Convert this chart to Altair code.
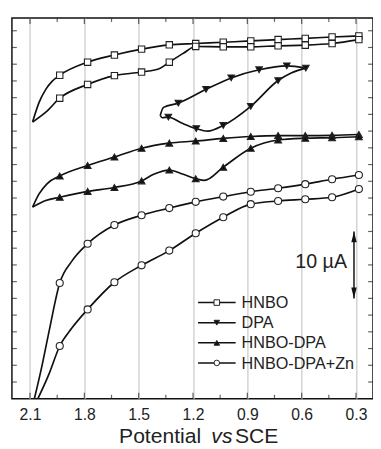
import altair as alt
import pandas as pd

FONT = "Liberation Sans"
SERIES = ["HNBO", "DPA", "HNBO-DPA", "HNBO-DPA+Zn"]

# ---- HNBO (open squares) ----
hnbo_a_v = [2.086, 2.050, 2.013, 1.977, 1.936, 1.782, 1.634, 1.484, 1.331, 1.185, 1.033, 0.881, 0.730, 0.580, 0.432, 0.284]
hnbo_a_i = [41.35, 44.29, 46.24, 47.47, 48.35, 50.30, 51.37, 52.25, 52.90, 53.09, 53.28, 53.48, 53.68, 53.86, 54.07, 54.22]
hnbo_a_m = [0, 0, 0, 0, 1, 1, 1, 1, 1, 1, 1, 1, 1, 1, 1, 1]
hnbo_b_v = [2.086, 2.013, 1.936, 1.782, 1.634, 1.484, 1.381, 1.331, 1.254, 1.185, 1.033, 0.881, 0.730, 0.580, 0.432, 0.284]
hnbo_b_i = [41.35, 42.82, 44.92, 46.97, 48.29, 48.83, 49.41, 50.30, 51.62, 52.65, 52.60, 52.60, 52.75, 52.84, 53.09, 53.67]
hnbo_b_m = [0, 0, 1, 1, 1, 1, 0, 1, 0, 1, 1, 1, 1, 1, 1, 1]

# ---- DPA (filled down triangles) ----
dpa_a_v = [1.381, 1.363, 1.281, 1.128, 0.989, 0.835, 0.682, 0.577]
dpa_a_i = [42.34, 43.55, 44.18, 46.24, 47.95, 49.17, 49.76, 49.42]
dpa_a_m = [0, 0, 1, 1, 1, 1, 1, 1]
dpa_b_v = [1.381, 1.370, 1.336, 1.263, 1.182, 1.119, 1.033, 0.881, 0.730, 0.658, 0.577]
dpa_b_i = [42.34, 42.00, 42.09, 41.21, 40.37, 39.99, 40.84, 43.70, 47.56, 48.69, 49.42]
dpa_b_m = [0, 0, 1, 0, 1, 0, 1, 1, 1, 0, 0]

# ---- HNBO-DPA (filled up triangles) ----
hd_a_v = [2.086, 2.050, 2.005, 1.936, 1.782, 1.634, 1.484, 1.331, 1.185, 1.033, 0.881, 0.730, 0.580, 0.432, 0.284]
hd_a_i = [28.64, 30.61, 32.16, 33.29, 34.86, 36.12, 37.44, 38.20, 38.52, 38.91, 39.20, 39.33, 39.33, 39.37, 39.49]
hd_a_m = [0, 0, 0, 1, 1, 1, 1, 1, 1, 1, 1, 1, 1, 1, 1]
hd_b_v = [2.086, 2.013, 1.936, 1.782, 1.634, 1.484, 1.417, 1.331, 1.258, 1.185, 1.137, 1.033, 0.881, 0.730, 0.580, 0.432, 0.284]
hd_b_i = [28.64, 29.62, 30.11, 30.99, 31.57, 32.56, 33.54, 34.17, 33.58, 32.89, 32.63, 34.61, 37.44, 38.67, 38.93, 39.01, 39.16]
hd_b_m = [0, 0, 1, 1, 1, 1, 0, 1, 0, 1, 0, 1, 1, 1, 1, 1, 1]

# ---- HNBO-DPA+Zn (open circles) ----
zn_a_v = [2.095, 2.032, 1.995, 1.936, 1.869, 1.782, 1.634, 1.484, 1.331, 1.185, 1.033, 0.881, 0.730, 0.580, 0.432, 0.284]
zn_a_i = [-2.10, 5.18, 10.07, 17.30, 20.57, 23.17, 25.96, 27.42, 28.49, 29.43, 30.21, 30.94, 31.46, 32.07, 32.81, 33.44]
zn_a_m = [0, 0, 0, 1, 0, 1, 1, 1, 1, 1, 1, 1, 1, 1, 1, 1]
zn_b_v = [2.095, 1.995, 1.936, 1.869, 1.782, 1.634, 1.484, 1.331, 1.185, 1.033, 0.881, 0.730, 0.580, 0.432, 0.284]
zn_b_i = [-2.10, 3.71, 7.88, 10.56, 13.35, 17.41, 19.94, 22.14, 24.74, 27.13, 29.08, 29.55, 29.81, 30.11, 31.34]
zn_b_m = [0, 0, 1, 0, 1, 1, 1, 1, 1, 1, 1, 1, 1, 1, 1]

# axis ticks / labels
x_major = [2.1, 1.8, 1.5, 1.2, 0.9, 0.6, 0.3]
x_minor = [1.95, 1.65, 1.35, 1.05, 0.75, 0.45]
y_ticks = [2.5 * k for k in range(1, 23)]

# scale bar (10 uA)
bar_v = 0.311
bar_lo = 15.0
bar_hi = 25.0

W, H = 368, 388

branches = [
    ("HNBO", "hnbo_a", hnbo_a_v, hnbo_a_i, hnbo_a_m),
    ("HNBO", "hnbo_b", hnbo_b_v, hnbo_b_i, hnbo_b_m),
    ("DPA", "dpa_a", dpa_a_v, dpa_a_i, dpa_a_m),
    ("DPA", "dpa_b", dpa_b_v, dpa_b_i, dpa_b_m),
    ("HNBO-DPA", "hd_a", hd_a_v, hd_a_i, hd_a_m),
    ("HNBO-DPA", "hd_b", hd_b_v, hd_b_i, hd_b_m),
    ("HNBO-DPA+Zn", "zn_a", zn_a_v, zn_a_i, zn_a_m),
    ("HNBO-DPA+Zn", "zn_b", zn_b_v, zn_b_i, zn_b_m),
]
rows = []
for s, b, vs, cs, ms in branches:
    for k, (v, c, m) in enumerate(zip(vs, cs, ms)):
        rows.append(dict(series=s, branch=b, V=v, I=c, mk=m, ord=k))
df = pd.DataFrame(rows)

x_scale = alt.Scale(domain=[2.2, 0.206], nice=False, zero=False)
y_scale = alt.Scale(domain=[0, 56.9], nice=False, zero=False)
shape_scale = alt.Scale(domain=SERIES, range=["square", "triangle-down", "triangle-up", "circle"])
fill_scale = alt.Scale(domain=SERIES, range=["white", "#111111", "#111111", "white"])
size_scale = alt.Scale(domain=SERIES, range=[42, 52, 52, 46])

x_axis = alt.Axis(values=x_major, grid=True, ticks=False, tickSize=0, domain=False,
                  labelFontSize=16, labelFont=FONT, labelColor="#222222",
                  labelPadding=8, format=".1f", gridColor="#cccccc", gridWidth=1.3,
                  labelFlush=False, labelOverlap=False, title=None)
X = alt.X("V:Q", scale=x_scale, axis=x_axis, title=None)
Y = alt.Y("I:Q", scale=y_scale, axis=None)

lines = alt.Chart(df).mark_line(interpolate="monotone", clip=True, strokeWidth=1.7, color="#111111").encode(
    x=X, y=Y, detail="branch:N", order="ord:Q")

marks = alt.Chart(df[df.mk == 1]).mark_point(filled=True, opacity=1, stroke="#222222", strokeWidth=1.1).encode(
    x=X, y=Y,
    shape=alt.Shape("series:N", scale=shape_scale, legend=None),
    fill=alt.Fill("series:N", scale=fill_scale, legend=None),
    size=alt.Size("series:N", scale=size_scale, legend=None))

# inward ticks
yt = pd.DataFrame({"I": y_ticks})
ytl = alt.Chart(yt).mark_tick(orient="horizontal", size=5, thickness=1.2, color="#222222").encode(
    y=Y, x=alt.value(2.5))
ytr = alt.Chart(yt).mark_tick(orient="horizontal", size=5, thickness=1.2, color="#222222").encode(
    y=Y, x=alt.value(W - 2.5))
xmj = pd.DataFrame({"V": x_major})
xmn = pd.DataFrame({"V": x_minor})
xt = []
for d, sz in ((xmj, 6), (xmn, 4)):
    xt.append(alt.Chart(d).mark_tick(orient="vertical", size=sz, thickness=1.2, color="#222222").encode(
        x=X, y=alt.value(H - sz / 2)))
    xt.append(alt.Chart(d).mark_tick(orient="vertical", size=sz, thickness=1.2, color="#222222").encode(
        x=X, y=alt.value(sz / 2)))

# scale bar
bar = pd.DataFrame({"V": [bar_v], "lo": [bar_lo], "hi": [bar_hi]})
bar_rule = alt.Chart(bar).mark_rule(strokeWidth=1.5, color="#111111").encode(
    x=X, y=alt.Y("lo:Q", scale=y_scale, axis=None), y2="hi:Q")
head_up = alt.Chart(bar).mark_point(shape="M0,0L0.55,2.2L-0.55,2.2Z", size=100, filled=True,
                                    color="#111111", opacity=1).encode(
    x=X, y=alt.Y("hi:Q", scale=y_scale, axis=None))
head_dn = alt.Chart(bar).mark_point(shape="M0,0L0.55,-2.2L-0.55,-2.2Z", size=100, filled=True,
                                    color="#111111", opacity=1).encode(
    x=X, y=alt.Y("lo:Q", scale=y_scale, axis=None))
bar_txt = alt.Chart(pd.DataFrame({"t": ["10 µA"]})).mark_text(
    align="right", baseline="alphabetic", font=FONT, fontSize=20, color="#222222").encode(
    text="t:N", x=alt.value(341.5), y=alt.value(254.5))

# legend
leg = []
for r, s in enumerate(SERIES):
    ly = 290.0 + 20.5 * r
    d = pd.DataFrame({"series": [s]})
    leg.append(alt.Chart(d).mark_rule(strokeWidth=1.6, color="#111111").encode(
        x=alt.value(189.7), x2=alt.value(228), y=alt.value(ly)))
    leg.append(alt.Chart(d).mark_point(filled=True, opacity=1, stroke="#222222", strokeWidth=1.0, size=32).encode(
        x=alt.value(208.8), y=alt.value(ly),
        shape=alt.Shape("series:N", scale=shape_scale, legend=None),
        fill=alt.Fill("series:N", scale=fill_scale, legend=None)))
    leg.append(alt.Chart(d).mark_text(align="left", baseline="alphabetic", font=FONT, fontSize=16.5,
                                      color="#222222").encode(
        text="series:N", x=alt.value(234), y=alt.value(ly + 5.8)))

# axis title with italic "vs"
title = []
for txt, cx, st in (("Potential", 151.0, "normal"), ("vs", 214.0, "italic"), ("SCE", 249.5, "normal")):
    title.append(alt.Chart(pd.DataFrame({"t": [txt]})).mark_text(
        align="center", baseline="alphabetic", font=FONT, fontSize=21.5, fontStyle=st,
        color="#222222").encode(text="t:N", x=alt.value(cx), y=alt.value(433.5)))

chart = alt.layer(lines, marks, ytl, ytr, *xt, bar_rule, head_up, head_dn, bar_txt, *leg, *title).properties(
    width=W, height=H,
    autosize=alt.AutoSizeParams(type="none"),
    padding={"left": 4, "top": 6, "right": 0, "bottom": 47},
).configure_view(stroke="#111111", strokeWidth=1.5)

chart.save("out.html", embed_options={"renderer": "svg", "actions": False})
